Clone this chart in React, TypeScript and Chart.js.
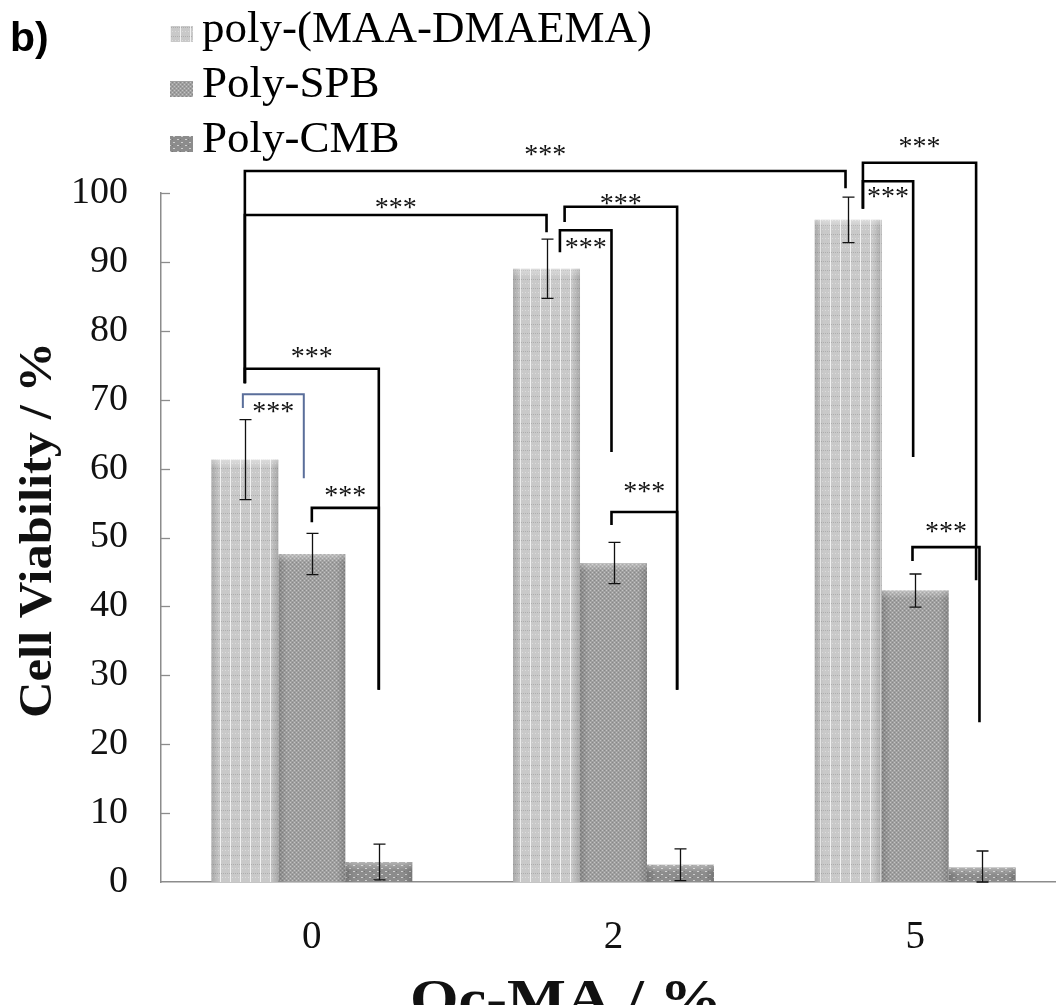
import React, { useEffect, useRef } from 'react';
import { Chart, registerables } from 'chart.js';

Chart.register(...registerables);

// ---------- data ----------
const categories = ['0', '2', '5'];
const seriesNames = ['poly-(MAA-DMAEMA)', 'Poly-SPB', 'Poly-CMB'];
const polyMaaValues = [61.3, 89.0, 96.1];
const polyMaaErrors = [5.8, 4.3, 3.3];
const polySpbValues = [47.6, 46.3, 42.3];
const polySpbErrors = [3.0, 3.0, 2.4];
const polyCmbValues = [2.9, 2.5, 2.1];
const polyCmbErrors = [2.6, 2.3, 2.4];
const yAxisMin = 0;
const yAxisMax = 100;
const yAxisStep = 10;
const panelLabel = 'b)';
const xTitle = 'Oc-MA / %';
const yTitle = 'Cell Viability / %';

// significance brackets: [category, series, shift in bar widths], values in data units
type Bracket = {
  from: [number, number, number];
  to: [number, number, number];
  top: number;
  fromEnd: number;
  toEnd: number;
  labelY: number;
  label: string;
  blue?: boolean;
};
const brackets: Bracket[] = [
  { from: [0, 0, 0], to: [2, 0, -0.04], top: 103.2, fromEnd: 72.4, toEnd: 100.7, labelY: 106.2, label: '***' },
  { from: [0, 0, 0], to: [1, 0, 0], top: 96.8, fromEnd: 72.4, toEnd: 94.3, labelY: 98.5, label: '***' },
  { from: [0, 0, 0], to: [0, 2, 0], top: 74.5, fromEnd: 72.4, toEnd: 27.9, labelY: 76.8, label: '***' },
  { from: [0, 0, -0.03], to: [0, 1, -0.12], top: 70.8, fromEnd: 68.8, toEnd: 58.6, labelY: 68.9, label: '***', blue: true },
  { from: [0, 1, 0], to: [0, 2, 0], top: 54.3, fromEnd: 52.2, toEnd: 27.9, labelY: 56.6, label: '***' },
  { from: [1, 0, 0.27], to: [1, 2, -0.05], top: 98.0, fromEnd: 95.8, toEnd: 27.9, labelY: 99.1, label: '***' },
  { from: [1, 0, 0.2], to: [1, 1, -0.03], top: 94.6, fromEnd: 91.4, toEnd: 62.4, labelY: 92.7, label: '***' },
  { from: [1, 1, -0.03], to: [1, 2, -0.05], top: 53.7, fromEnd: 51.8, toEnd: 27.9, labelY: 57.2, label: '***' },
  { from: [2, 0, 0.22], to: [2, 2, -0.09], top: 104.4, fromEnd: 97.7, toEnd: 43.8, labelY: 107.3, label: '***' },
  { from: [2, 0, 0.22], to: [2, 1, -0.03], top: 101.7, fromEnd: 97.7, toEnd: 61.7, labelY: 100.0, label: '***' },
  { from: [2, 1, -0.04], to: [2, 2, -0.04], top: 48.6, fromEnd: 46.6, toEnd: 23.2, labelY: 51.4, label: '***' },
];

const errorSets = [polyMaaErrors, polySpbErrors, polyCmbErrors];

const SERIF = "'Liberation Serif', 'Times New Roman', serif";
const SANS = "'Liberation Sans', Arial, sans-serif";

function makePattern(kind: number): CanvasPattern | string {
  const c = document.createElement('canvas');
  const ctx = c.getContext('2d');
  if (!ctx) return '#aaa';
  if (kind === 0) {
    c.width = 10;
    c.height = 9;
    ctx.fillStyle = '#c9c9c9';
    ctx.fillRect(0, 0, 10, 9);
    ctx.fillStyle = '#f2f2f2';
    ctx.fillRect(0, 0, 1, 9);
    for (let x = 1; x < 10; x += 2) {
      ctx.fillStyle = '#aeaeae';
      ctx.fillRect(x, 0, 1, 1);
    }
    for (let x = 2; x < 10; x += 3) {
      ctx.fillStyle = '#dcdcdc';
      ctx.fillRect(x, 4, 1, 1);
    }
  } else if (kind === 1) {
    c.width = 4;
    c.height = 4;
    ctx.fillStyle = '#a0a0a0';
    ctx.fillRect(0, 0, 4, 4);
    ctx.fillStyle = '#c4c4c4';
    ctx.fillRect(0, 0, 1, 1);
    ctx.fillRect(2, 2, 1, 1);
    ctx.fillStyle = '#888888';
    ctx.fillRect(2, 0, 1, 1);
    ctx.fillRect(0, 2, 1, 1);
  } else {
    c.width = 8;
    c.height = 6;
    ctx.fillStyle = '#8c8c8c';
    ctx.fillRect(0, 0, 8, 6);
    ctx.fillStyle = '#cfcfcf';
    ctx.fillRect(1, 1, 2, 1);
    ctx.fillRect(5, 4, 2, 1);
    ctx.fillStyle = '#777777';
    ctx.fillRect(4, 1, 1, 1);
  }
  return ctx.createPattern(c, 'repeat') || '#aaa';
}

export default function App() {
  const canvasRef = useRef<HTMLCanvasElement | null>(null);

  useEffect(() => {
    document.documentElement.style.overflow = 'hidden';
    document.body.style.overflow = 'hidden';
    const canvas = canvasRef.current;
    if (!canvas) return;
    const patterns = [makePattern(0), makePattern(1), makePattern(2)];
    const values = [polyMaaValues, polySpbValues, polyCmbValues];

    const decorPlugin = {
      id: 'decor',
      afterDatasetsDraw(chart: any) {
        const ctx: CanvasRenderingContext2D = chart.ctx;
        const ys = chart.scales.y;
        // bar edge shading
        chart.data.datasets.forEach((_ds: any, di: number) => {
          const meta = chart.getDatasetMeta(di);
          meta.data.forEach((el: any) => {
            const left = el.x - el.width / 2;
            const right = el.x + el.width / 2;
            const top = el.y;
            const bottom = el.base;
            const ew = el.width * 0.13;
            ctx.save();
            let g = ctx.createLinearGradient(left, 0, left + ew, 0);
            g.addColorStop(0, 'rgba(0,0,0,0.16)');
            g.addColorStop(1, 'rgba(0,0,0,0)');
            ctx.fillStyle = g;
            ctx.fillRect(left, top, ew, bottom - top);
            g = ctx.createLinearGradient(right - ew, 0, right, 0);
            g.addColorStop(0, 'rgba(0,0,0,0)');
            g.addColorStop(1, 'rgba(0,0,0,0.16)');
            ctx.fillStyle = g;
            ctx.fillRect(right - ew, top, ew, bottom - top);
            const th = Math.min(8, (bottom - top) / 2);
            g = ctx.createLinearGradient(0, top, 0, top + th);
            g.addColorStop(0, 'rgba(255,255,255,0.35)');
            g.addColorStop(1, 'rgba(255,255,255,0)');
            ctx.fillStyle = g;
            ctx.fillRect(left, top, right - left, th);
            ctx.restore();
          });
        });
        // error bars
        ctx.save();
        ctx.strokeStyle = '#111';
        ctx.lineWidth = 1.3;
        chart.data.datasets.forEach((ds: any, di: number) => {
          const meta = chart.getDatasetMeta(di);
          meta.data.forEach((el: any, i: number) => {
            const v = ds.data[i] as number;
            const e = errorSets[di][i];
            const yt = ys.getPixelForValue(v + e);
            const yb = ys.getPixelForValue(Math.max(v - e, 0));
            const x = Math.round(el.x) + 0.5;
            ctx.beginPath();
            ctx.moveTo(x, yt);
            ctx.lineTo(x, yb);
            ctx.moveTo(x - 6, yt);
            ctx.lineTo(x + 6, yt);
            ctx.moveTo(x - 6, yb);
            ctx.lineTo(x + 6, yb);
            ctx.stroke();
          });
        });
        ctx.restore();
      },
      afterDraw(chart: any) {
        const ctx: CanvasRenderingContext2D = chart.ctx;
        const ys = chart.scales.y;
        const area = chart.chartArea;
        // inside tick marks on y axis
        ctx.save();
        ctx.strokeStyle = '#8c8c8c';
        ctx.lineWidth = 1.3;
        ys.ticks.forEach((t: any) => {
          if (t.value === yAxisMin) return;
          const py = Math.round(ys.getPixelForValue(t.value)) + 0.5;
          ctx.beginPath();
          ctx.moveTo(area.left, py);
          ctx.lineTo(area.left + 9, py);
          ctx.stroke();
        });
        ctx.restore();

        // brackets
        const barX = (ref: [number, number, number]) => {
          const el: any = chart.getDatasetMeta(ref[1]).data[ref[0]];
          return el.x + ref[2] * el.width;
        };
        brackets.forEach((b) => {
          const x1 = barX(b.from);
          const x2 = barX(b.to);
          const yTop = ys.getPixelForValue(b.top);
          const y1 = ys.getPixelForValue(b.fromEnd);
          const y2 = ys.getPixelForValue(b.toEnd);
          ctx.save();
          ctx.strokeStyle = b.blue ? '#5a6e9a' : '#000';
          ctx.lineWidth = b.blue ? 2 : 2.6;
          ctx.lineJoin = 'miter';
          ctx.beginPath();
          ctx.moveTo(x1, y1);
          ctx.lineTo(x1, yTop);
          ctx.lineTo(x2, yTop);
          ctx.lineTo(x2, y2);
          ctx.stroke();
          ctx.fillStyle = '#111';
          ctx.font = `28px ${SERIF}`;
          ctx.textAlign = 'center';
          ctx.textBaseline = 'middle';
          ctx.fillText(b.label, (x1 + x2) / 2, ys.getPixelForValue(b.labelY) + 5);
          ctx.restore();
        });

        // legend
        const rows = [42, 97, 152];
        ctx.save();
        chart.data.datasets.forEach((ds: any, di: number) => {
          const base = rows[di];
          ctx.fillStyle = ds.backgroundColor;
          ctx.fillRect(170, base - 16, 23, 16);
          ctx.fillStyle = '#000';
          ctx.font = `45px ${SERIF}`;
          ctx.textAlign = 'left';
          ctx.textBaseline = 'alphabetic';
          ctx.fillText(ds.label, 202, base);
        });
        ctx.font = `bold 41px ${SANS}`;
        ctx.fillText(panelLabel, 10, 51);

        // axis titles (slightly widened type as in the source figure)
        ctx.fillStyle = '#111';
        ctx.font = `bold 52px ${SERIF}`;
        ctx.textAlign = 'center';
        ctx.textBaseline = 'alphabetic';
        ctx.save();
        ctx.translate(566, 1016);
        ctx.scale(1.2, 1);
        ctx.fillText(xTitle, 0, 0);
        ctx.restore();

        ctx.save();
        ctx.font = `bold 46px ${SERIF}`;
        ctx.translate(51, 530);
        ctx.rotate(-Math.PI / 2);
        ctx.scale(1.1, 1);
        ctx.fillText(yTitle, 0, 0);
        ctx.restore();
        ctx.restore();
      },
    };

    const chart = new Chart(canvas, {
      type: 'bar',
      data: {
        labels: categories,
        datasets: seriesNames.map((name, i) => ({
          label: name,
          data: values[i],
          backgroundColor: patterns[i] as any,
          borderWidth: 0,
          categoryPercentage: 0.666,
          barPercentage: 1.0,
        })),
      },
      options: {
        animation: false,
        responsive: false,
        devicePixelRatio: 1,
        layout: { padding: { top: 193, right: 0, left: 0, bottom: 0 } },
        plugins: {
          legend: { display: false },
          tooltip: { enabled: false },
        },
        scales: {
          x: {
            type: 'category',
            offset: true,
            grid: { display: false },
            border: { display: true, color: '#8c8c8c', width: 1.5 },
            ticks: { font: { family: SERIF, size: 39 }, color: '#111', padding: 24 },
            title: { display: false },
            afterFit: (s: any) => {
              s.height = 143;
            },
          },
          y: {
            min: yAxisMin,
            max: yAxisMax,
            grid: { display: false },
            border: { display: true, color: '#8c8c8c', width: 1.5 },
            ticks: { stepSize: yAxisStep, font: { family: SERIF, size: 38 }, color: '#111', padding: 25 },
            title: { display: false },
            afterFit: (s: any) => {
              s.width = 161;
            },
          },
        },
      } as any,
      plugins: [decorPlugin],
    });
    return () => chart.destroy();
  }, []);

  return (
    <div style={{ position: 'absolute', left: 0, top: 0, width: 1066, height: 1025, background: '#fff' }}>
      <canvas ref={canvasRef} width={1066} height={1025} style={{ width: 1066, height: 1025, display: 'block' }} />
    </div>
  );
}
